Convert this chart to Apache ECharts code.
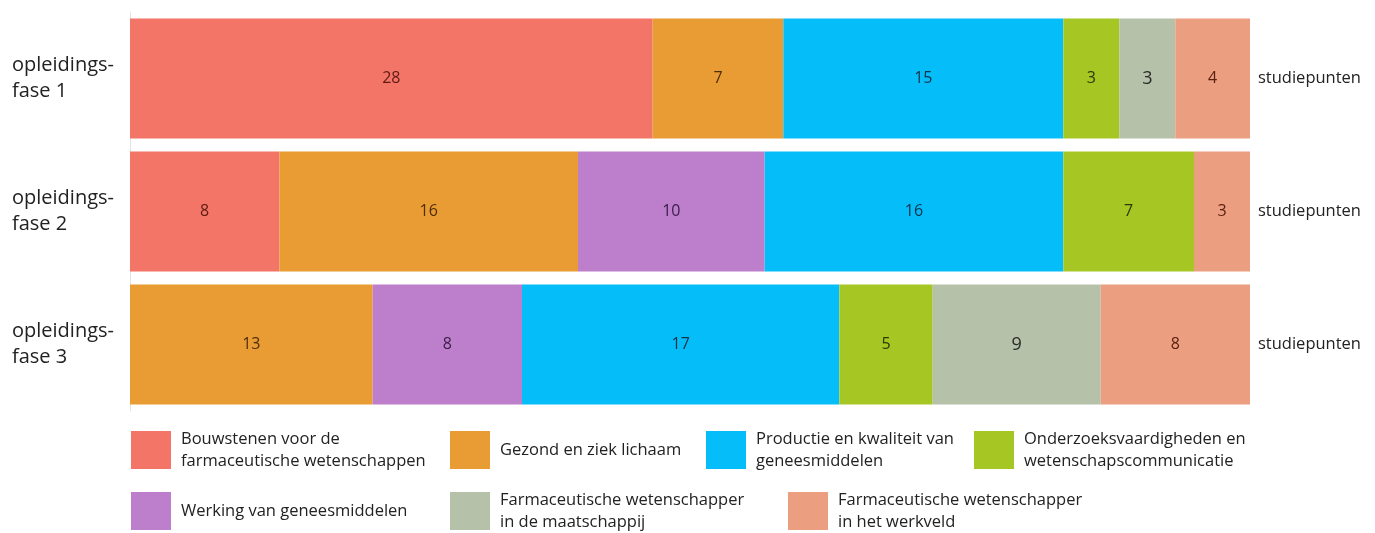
<!DOCTYPE html>
<html>
<head>
<meta charset="utf-8">
<script src="https://cdn.jsdelivr.net/npm/echarts@6/dist/echarts.min.js"></script>
<style>
  html, body { margin: 0; padding: 0; background: #fff; }
  #main { width: 1375px; height: 533px; }
</style>
</head>
<body>
<div id="main"></div>
<script>
// studiepunten per opleidingsfase
var fases = ['opleidings-\nfase 1', 'opleidings-\nfase 2', 'opleidings-\nfase 3'];
var rightLabel = 'studiepunten';

var onderdelen = [
  'Bouwstenen voor de farmaceutische wetenschappen',
  'Gezond en ziek lichaam',
  'Werking van geneesmiddelen',
  'Productie en kwaliteit van geneesmiddelen',
  'Onderzoeksvaardigheden en wetenschapscommunicatie',
  'Farmaceutische wetenschapper in de maatschappij',
  'Farmaceutische wetenschapper in het werkveld'
];
// legend text zoals op het plaatje (met regelafbreking)
var legendTekst = [
  'Bouwstenen voor de\nfarmaceutische wetenschappen',
  'Gezond en ziek lichaam',
  'Werking van geneesmiddelen',
  'Productie en kwaliteit van\ngeneesmiddelen',
  'Onderzoeksvaardigheden en\nwetenschapscommunicatie',
  'Farmaceutische wetenschapper\nin de maatschappij',
  'Farmaceutische wetenschapper\nin het werkveld'
];

var bouwstenen   = [28, 8, 0];
var gezond       = [7, 16, 13];
var werking      = [0, 10, 8];
var productie    = [15, 16, 17];
var onderzoek    = [3, 7, 5];
var maatschappij = [3, 0, 9];
var werkveld     = [4, 3, 8];

var waarden = [bouwstenen, gezond, werking, productie, onderzoek, maatschappij, werkveld];

var kleuren = ['#f27567', '#e89c33', '#bd7fcc', '#05bdf9', '#a6c624', '#b5c1a9', '#ec9e81'];
var labelKleuren = ['#5e1a12', '#4f2e08', '#3a1c46', '#10324a', '#2b3a06', '#2a2a2a', '#5a2010'];
var labelGrootte = [16, 16, 16, 16, 16, 18, 16];

// posities van de legenda blokjes (2-regelige items iets hoger: tekst is hoger dan blokje)
var legendPos = [
  { left: 131, top: 428 },
  { left: 450, top: 431 },
  { left: 131, top: 492 },
  { left: 706, top: 428 },
  { left: 974, top: 428 },
  { left: 450, top: 489 },
  { left: 788, top: 489 }
];

var chart = echarts.init(document.getElementById('main'));

var series = [];
var legends = [];
for (var i = 0; i < onderdelen.length; i++) {
  series.push({
    name: onderdelen[i],
    type: 'bar',
    stack: 'totaal',
    barWidth: 120,
    itemStyle: { color: kleuren[i] },
    label: {
      show: true,
      position: 'inside',
      color: labelKleuren[i],
      fontSize: labelGrootte[i],
      fontFamily: 'Open Sans',
      formatter: function (p) { return p.value ? p.value : ''; }
    },
    emphasis: { disabled: true },
    data: waarden[i]
  });
  legends.push({
    data: [onderdelen[i]],
    left: legendPos[i].left,
    top: legendPos[i].top,
    padding: 0,
    itemWidth: 40,
    itemHeight: 38,
    icon: 'rect',
    selectedMode: false,
    formatter: (function (t) { return function () { return t; }; })(legendTekst[i]),
    textStyle: {
      fontSize: 16.5,
      lineHeight: 22,
      color: '#222',
      fontFamily: 'Open Sans',
      padding: [0, 0, 0, 5]
    }
  });
}

var option = {
  animation: false,
  legend: legends,
  grid: { left: 130, right: 125, top: 12, bottom: 122 },
  xAxis: {
    type: 'value',
    min: 0,
    max: 60,
    show: false
  },
  yAxis: [
    {
      type: 'category',
      inverse: true,
      data: fases,
      axisLine: { show: true, lineStyle: { color: '#e3e3e3', width: 1 } },
      axisTick: { show: false },
      axisLabel: {
        align: 'left',
        margin: 118,
        fontSize: 20,
        lineHeight: 26,
        color: '#222',
        fontFamily: 'Open Sans'
      }
    },
    {
      type: 'category',
      inverse: true,
      position: 'right',
      data: fases,
      axisLine: { show: false },
      axisTick: { show: false },
      axisLabel: {
        margin: 8,
        align: 'left',
        fontSize: 16.5,
        color: '#222',
        fontFamily: 'Open Sans',
        formatter: function () { return rightLabel; }
      }
    }
  ],
  series: series
};

chart.setOption(option);
</script>
</body>
</html>
